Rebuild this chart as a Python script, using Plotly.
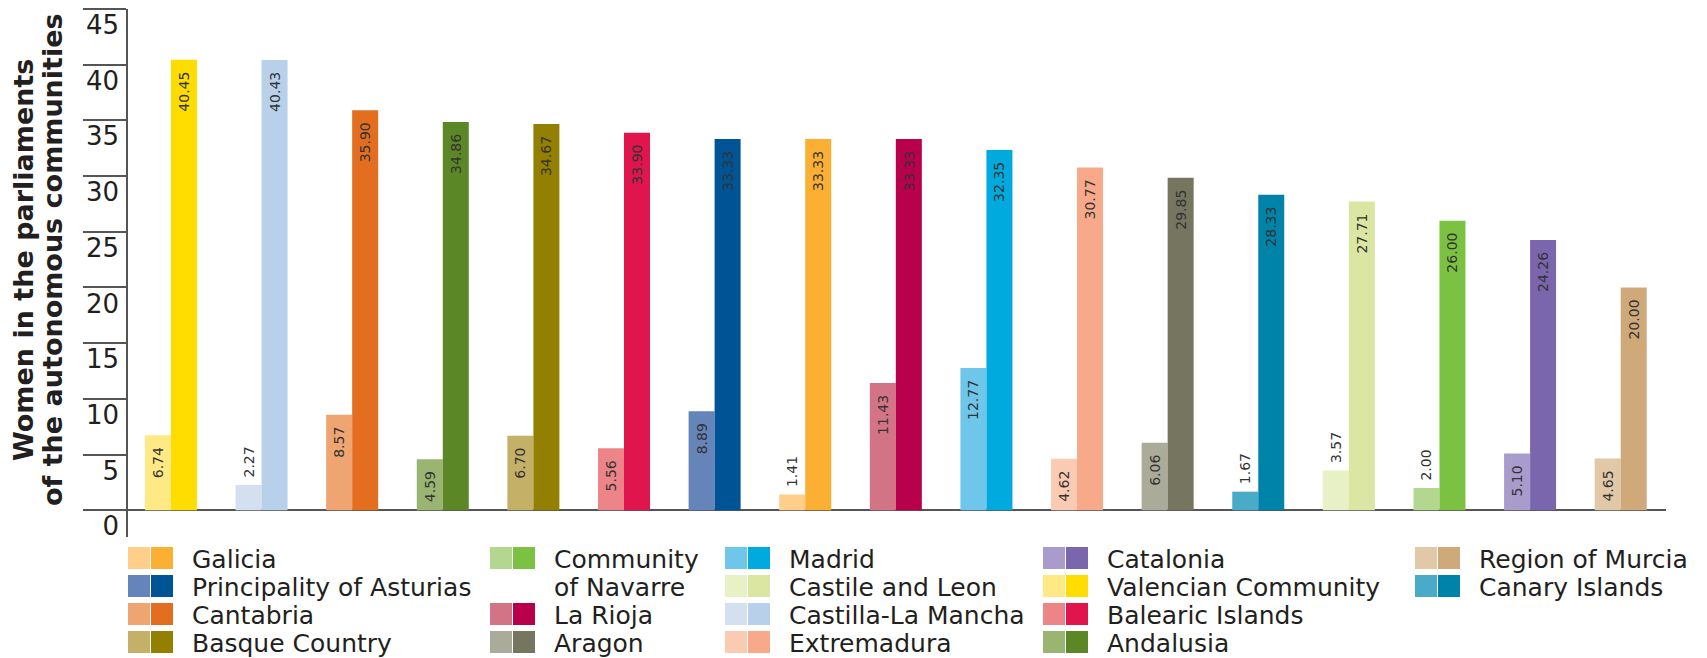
import plotly.graph_objects as go

# ---------------- data ----------------
communities = [
    "Valencian Community", "Castilla-La Mancha", "Cantabria", "Andalusia",
    "Basque Country", "Balearic Islands", "Principality of Asturias", "Galicia",
    "La Rioja", "Madrid", "Extremadura", "Aragon", "Canary Islands",
    "Castile and Leon", "Community of Navarre", "Catalonia", "Region of Murcia",
]
first_values = [6.74, 2.27, 8.57, 4.59, 6.70, 5.56, 8.89, 1.41, 11.43, 12.77,
                4.62, 6.06, 1.67, 3.57, 2.00, 5.10, 4.65]
latest_values = [40.45, 40.43, 35.90, 34.86, 34.67, 33.90, 33.33, 33.33, 33.33,
                 32.35, 30.77, 29.85, 28.33, 27.71, 26.00, 24.26, 20.00]
light_colors = ["#FFE985", "#D3E0F0", "#EEA571", "#9AB572", "#C4B066", "#ED8488",
                "#6584B9", "#FECE8A", "#D37486", "#6EC6EA", "#FACBB2", "#ABAB9A",
                "#4AABC8", "#E8F0C6", "#B3D78E", "#A99CCD", "#E1C9A8"]
dark_colors = ["#FFDD00", "#B9D0EA", "#E36E1F", "#5C8727", "#948000", "#E0154E",
               "#005495", "#FBB034", "#B9004C", "#00AADE", "#F7A98A", "#757560",
               "#0083A9", "#DAE6A2", "#7CC242", "#7966AD", "#CFA97A"]
y_ticks = [0, 5, 10, 15, 20, 25, 30, 35, 40, 45]
y_title_lines = ["Women in the parliaments", "of the autonomous communities"]

# legend layout: columns of (label, row)
legend_columns = [
    [("Galicia", 0), ("Principality of Asturias", 1), ("Cantabria", 2), ("Basque Country", 3)],
    [("Community of Navarre", 0), ("La Rioja", 2), ("Aragon", 3)],
    [("Madrid", 0), ("Castile and Leon", 1), ("Castilla-La Mancha", 2), ("Extremadura", 3)],
    [("Catalonia", 0), ("Valencian Community", 1), ("Balearic Islands", 2), ("Andalusia", 3)],
    [("Region of Murcia", 0), ("Canary Islands", 1)],
]
legend_text = {"Community of Navarre": ["Community", "of Navarre"]}

# ---------------- geometry ----------------
W, H = 1707, 658
L, R, T, B = 128, 41, 9, 121
PW, PH = W - L - R, H - T - B
FONT = "DejaVu Sans, Verdana, sans-serif"


def px_x(px):
    return (px - L) / PW


def px_y(py):
    return (H - B - py) / PH


def bar_text(vals, pos):
    out = []
    for v, p in zip(vals, pos):
        s = f"{v:.2f}"
        out.append(s + "\u00a0\u00a0" if p == "inside" else "\u00a0" + s)
    return out


first_pos = ["inside" if v > 4 else "outside" for v in first_values]
latest_pos = ["inside" if v > 4 else "outside" for v in latest_values]

fig = go.Figure()
for vals, cols, pos, nm in [(first_values, light_colors, first_pos, "first"),
                            (latest_values, dark_colors, latest_pos, "latest")]:
    fig.add_trace(go.Bar(
        x=list(range(len(communities))), y=vals, name=nm,
        marker=dict(color=cols, line=dict(width=0)),
        text=bar_text(vals, pos), textposition=pos,
        insidetextanchor="end", textangle=-90, constraintext="none",
        textfont=dict(family=FONT, size=14, color="#333333"),
        cliponaxis=False, hoverinfo="skip",
    ))

shapes = []
annotations = []
col_x = [128, 490, 725, 1043, 1415]
row_top0, row_pitch, sw = 547, 28, 22
for ci, col in enumerate(legend_columns):
    x0 = col_x[ci]
    for label, row in col:
        idx = communities.index(label)
        top = row_top0 + row * row_pitch
        for k, colr in enumerate([light_colors[idx], dark_colors[idx]]):
            sx = x0 + k * (sw + 1)
            shapes.append(dict(type="rect", xref="paper", yref="paper",
                               x0=px_x(sx), x1=px_x(sx + sw),
                               y0=px_y(top + sw), y1=px_y(top),
                               fillcolor=colr, line=dict(width=0)))
        lines = legend_text.get(label, [label])
        for li, txt in enumerate(lines):
            annotations.append(dict(
                text=txt, xref="paper", yref="paper", showarrow=False,
                x=px_x(x0 + 62), y=px_y(top + sw / 2 + 1 + li * row_pitch),
                xanchor="left", yanchor="middle",
                font=dict(family=FONT, size=25, color="#231F20")))

# y-axis title, two rotated lines
title_x = [23, 52]
for line, cx in zip(y_title_lines, title_x):
    annotations.append(dict(
        text=f"<b>{line}</b>", xref="paper", yref="paper", showarrow=False,
        x=px_x(cx), y=px_y(260), xanchor="center", yanchor="middle",
        textangle=-90, font=dict(family=FONT, size=27, color="#231F20")))

fig.update_layout(
    width=W, height=H,
    margin=dict(l=L, r=R, t=T, b=B, pad=0),
    paper_bgcolor="white", plot_bgcolor="white",
    barmode="group", bargap=0.426, bargroupgap=0,
    showlegend=False,
    shapes=shapes, annotations=annotations,
    xaxis=dict(range=[-0.474, 16.5], showticklabels=False, ticks="",
               showgrid=False, zeroline=False, showline=False, fixedrange=True),
    yaxis=dict(range=[-2.4, 45], tickvals=y_ticks, ticks="outside", ticklen=43,
               tickwidth=1.5, tickcolor="#555555", showline=True, linecolor="#555555",
               linewidth=1.5, showgrid=False, zeroline=True, zerolinecolor="#555555",
               zerolinewidth=2, ticklabelstandoff=-41, ticklabelshift=16,
               tickfont=dict(family=FONT, size=26, color="#231F20"), fixedrange=True),
)

fig.write_html("out.html", config={"displayModeBar": False},
               post_script="document.body.style.margin='0px';document.body.style.overflow='hidden';")
